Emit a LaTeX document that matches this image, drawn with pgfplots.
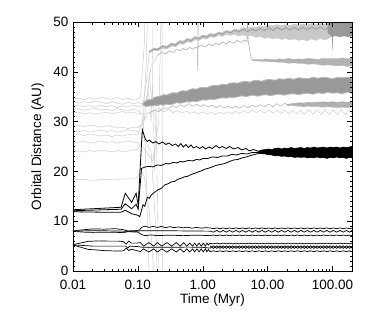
\documentclass[border=0pt]{standalone}
\usepackage{fontspec}
\setmainfont{Liberation Sans}
\usepackage{pgfplots}
\pgfplotsset{compat=1.18}
\definecolor{lg}{gray}{0.80}
\definecolor{mg}{gray}{0.70}
\definecolor{bg}{gray}{0.60}
\begin{document}
\fontsize{13.5}{15}\selectfont
\begin{tikzpicture}
\useasboundingbox (-73pt,-47pt) rectangle (301pt,271pt);
\begin{axis}[
  at={(0pt,0pt)}, anchor=south west,
  width=279pt, height=249pt, scale only axis,
  xmode=log, xmin=0.01, xmax=200, ymin=0, ymax=50,
  xtick={0.01,0.1,1,10,100}, xticklabels={0.01,0.10,1.00,10.00,100.00},
  ytick={0,10,20,30,40,50}, minor y tick num=9,
  major tick length=5pt, minor tick length=2.5pt,
  tick style={black, line width=0.4pt},
  axis line style={line width=0.5pt},
  /pgf/number format/assume math mode=true,
  ticklabel style={font=\fontsize{13.5}{15}\selectfont},
  xticklabel style={yshift=-4pt},
  xlabel={Time (Myr)}, ylabel={Orbital Distance (AU)},
  label style={font=\fontsize{13.5}{15}\selectfont},
  xlabel style={at={(axis description cs:0.5,-0.118)}, anchor=center},
  ylabel style={at={(axis description cs:-0.127,0.5)}, anchor=center},
  axis on top,
]
% ---------- early light gray bodies ----------
\addplot[lg, line width=0.5pt] coordinates {(0.01,34.5)(0.012,34.7)(0.015,34.4)(0.018,34.8)(0.022,34.5)(0.027,34.9)(0.033,34.6)(0.04,34.5)(0.048,34.9)(0.058,34.4)(0.07,34.7)(0.085,34.3)(0.1,34.5)(0.11,35)(0.125,45)(0.135,60)};
\addplot[lg, line width=0.5pt] coordinates {(0.01,33.9)(0.012,33.7)(0.015,34.0)(0.018,33.8)(0.022,34.1)(0.027,33.9)(0.033,33.6)(0.04,34.0)(0.048,33.7)(0.058,33.5)(0.07,33.9)(0.085,33.6)(0.1,33.8)(0.12,33.6)};
\addplot[lg, line width=0.5pt] coordinates {(0.01,33.1)(0.012,33.3)(0.015,33.0)(0.018,33.2)(0.022,32.9)(0.027,33.3)(0.033,33.0)(0.04,33.2)(0.048,32.8)(0.058,33.2)(0.07,32.9)(0.085,33.3)(0.1,33.0)(0.12,33.4)(0.135,38)(0.15,44)};
\addplot[lg, line width=0.5pt] coordinates {(0.01,32.4)(0.012,32.6)(0.015,32.3)(0.018,32.5)(0.022,32.7)(0.027,32.3)(0.033,32.5)(0.04,32.2)(0.048,32.6)(0.058,32.4)(0.07,32.1)(0.085,32.5)(0.1,32.3)(0.115,31.5)(0.13,25)(0.15,-2)};
\addplot[lg, line width=0.5pt] coordinates {(0.01,31.7)(0.012,31.9)(0.015,31.6)(0.018,31.8)(0.022,31.5)(0.027,31.7)(0.033,31.9)(0.04,31.6)(0.048,31.8)(0.058,32.0)(0.07,31.7)(0.085,31.9)(0.1,31.6)(0.12,31.5)(0.15,31.8)};
\addplot[lg, line width=0.5pt] coordinates {(0.01,29.1)(0.012,29.2)(0.015,29.0)(0.018,29.3)(0.022,29.1)(0.027,28.9)(0.033,29.2)(0.04,29.0)(0.048,28.7)(0.058,28.9)(0.07,28.6)(0.085,28.9)(0.1,28.8)(0.12,29.5)(0.135,42)(0.145,60)};
\addplot[lg, line width=0.5pt] coordinates {(0.01,28.1)(0.012,28.0)(0.015,28.2)(0.018,27.9)(0.022,28.1)(0.027,28.3)(0.033,28.0)(0.04,28.2)(0.048,27.9)(0.058,28.1)(0.07,28.4)(0.085,28.2)(0.1,28.0)(0.12,27)(0.16,24)(0.19,8)(0.2,-2)};
\addplot[lg, line width=0.5pt] coordinates {(0.01,27.3)(0.012,27.4)(0.015,27.2)(0.018,27.5)(0.022,27.3)(0.027,27.1)(0.033,27.3)(0.04,27.0)(0.048,27.3)(0.058,27.1)(0.07,27.4)(0.085,27.5)(0.1,27.3)(0.11,29)(0.14,31.5)(0.18,32.2)};
\addplot[lg, line width=0.5pt] coordinates {(0.01,25.8)(0.012,25.9)(0.015,26.0)(0.018,25.7)(0.022,25.9)(0.027,26.1)(0.033,25.8)(0.04,26.0)(0.048,25.7)(0.058,25.9)(0.07,26.1)(0.085,25.9)(0.1,25.8)(0.12,25)(0.17,22)(0.21,30)(0.235,60)(0.24,-2)};
\addplot[lg, line width=0.5pt] coordinates {(0.01,24.0)(0.012,24.1)(0.015,23.9)(0.018,24.2)(0.022,24.0)(0.027,24.3)(0.033,24.1)(0.04,23.9)(0.048,24.2)(0.058,24.0)(0.07,24.1)(0.085,24.3)(0.1,24.4)(0.115,26)(0.14,36)(0.16,41)(0.2,43.3)};
\addplot[lg, line width=0.5pt] coordinates {(0.01,18.3)(0.015,18.4)(0.02,18.2)(0.03,18.4)(0.045,18.3)(0.06,18.5)(0.09,18.5)(0.1,19)(0.11,20.5)(0.125,19)(0.15,12)(0.18,-2)};
\addplot[lg, line width=0.4pt] coordinates {(0.13,33.5)(0.145,36)(0.16,30)(0.17,38)(0.18,20)(0.19,34)(0.205,5)(0.215,-2)};
\addplot[lg, line width=0.4pt] coordinates {(0.14,34.0)(0.15,40)(0.165,33)(0.175,60)};
% ---------- light body later at ~41.5 AU ----------
\addplot[lg!80!black, line width=0.5pt] coordinates {(0.2,43.3)(0.23,43.9)(0.27,43.6)(0.3,44.2)(0.35,43.9)(0.4,44.5)(0.45,44.2)(0.5,44.7)(0.56,44.4)(0.63,44.9)(0.7,44.5)(0.78,45.0)(0.83,44.8)(0.84,40.2)(0.845,51)(0.85,45.0)(0.95,45.3)(1.1,45.0)(1.25,45.6)(1.4,45.2)(1.6,45.8)(1.8,45.4)(2.0,46.0)(2.3,45.6)(2.6,46.1)(3.0,45.7)(3.4,46.3)(3.9,45.9)(4.4,46.4)(4.8,46.1)(4.9,51)(5.0,46.2)(5.3,44.5)(5.6,42.6)(6.0,42.2)};
\addplot[fill=mg, draw=mg, line width=0.3pt] coordinates {(5.8,42.4)(7,42.5)(8,42.4)(9.5,42.6)(11,42.5)(13,42.4)(15,42.6)(18,42.5)(21,42.7)(25,42.5)(30,42.6)(35,42.5)(42,42.7)(50,42.6)(60,42.5)(70,42.7)(85,42.6)(100,42.7)(120,42.6)(140,42.8)(170,42.6)(200,42.7)(200,41.2)(170,41.1)(140,41.3)(120,41.2)(100,41.3)(85,41.4)(70,41.3)(60,41.5)(50,41.6)(42,41.5)(35,41.7)(30,41.7)(25,41.8)(21,41.7)(18,41.9)(15,41.9)(13,42.0)(11,42.0)(9.5,42.1)(8,42.1)(7,42.2)(5.8,42.2)} -- cycle;
% ---------- top band (light wide + core + dark end) ----------
\addplot[fill=gray!42, draw=gray!42, line width=0.3pt] coordinates {(0.15,44.3)(0.18,44.8)(0.2,44.7)(0.24,45.3)(0.28,45.2)(0.33,45.8)(0.38,45.7)(0.44,46.3)(0.5,46.2)(0.58,46.7)(0.66,46.6)(0.76,47.1)(0.87,46.9)(1.0,47.4)(1.15,47.3)(1.3,47.7)(1.5,47.6)(1.75,48.0)(2.0,47.9)(2.3,48.3)(2.7,48.2)(3.1,48.6)(3.6,48.5)(4.2,48.9)(4.9,48.7)(5.7,49.0)(6.6,48.9)(7.7,49.2)(9,49.1)(10.5,49.4)(12,49.2)(14,49.5)(16.5,49.3)(19,49.5)(22,49.3)(26,49.6)(30,49.4)(35,49.6)(41,49.4)(48,49.7)(56,49.5)(65,49.7)(75,49.5)(85,49.8)(100,49.9)(130,49.9)(200,49.9)(200,47.2)(130,47.1)(100,47.2)(85,46.6)(75,46.4)(65,46.7)(56,46.3)(48,46.6)(41,46.2)(35,46.5)(30,46.3)(26,46.6)(22,46.4)(19,46.7)(16.5,46.5)(14,46.8)(12,46.6)(10.5,46.9)(9,46.7)(7.7,47.1)(6.6,46.9)(5.7,47.3)(4.9,47.1)(4.2,47.4)(3.6,47.2)(3.1,47.5)(2.7,47.3)(2.3,47.5)(2.0,47.1)(1.75,47.3)(1.5,46.9)(1.3,47.0)(1.15,46.6)(1.0,46.7)(0.87,46.3)(0.76,46.4)(0.66,45.9)(0.58,46.0)(0.5,45.5)(0.44,45.6)(0.38,45.0)(0.33,45.1)(0.28,44.6)(0.24,44.7)(0.2,44.2)(0.18,44.3)(0.15,43.8)} -- cycle;
\addplot[bg, line width=0.8pt] coordinates {(0.15,44)(0.18,44.6)(0.2,44.4)(0.24,45.1)(0.28,44.9)(0.33,45.6)(0.38,45.3)(0.44,46.1)(0.5,45.8)(0.58,46.5)(0.66,46.2)(0.76,46.9)(0.87,46.6)(1.0,47.2)(1.15,46.9)(1.3,47.5)(1.5,47.2)(1.75,47.8)(2.0,47.5)(2.3,48.1)(2.7,47.8)(3.1,48.4)(3.6,48.0)(4.2,48.5)(4.9,48.1)(5.7,48.6)(6.6,48.2)(7.7,48.7)(9,48.3)(10.5,48.8)(12,48.3)(14,48.9)(16.5,48.4)(19,48.9)(22,48.4)(26,48.9)(30,48.4)(35,48.9)(41,48.5)(48,49.0)(56,48.5)(65,49.0)(75,48.5)(85,48.8)};
\addplot[fill=bg, draw=bg, line width=0.3pt] coordinates {(85,49.6)(95,49.9)(110,49.7)(130,50)(150,49.8)(175,50)(200,49.8)(200,47.2)(175,47.0)(150,47.3)(130,47.0)(110,47.3)(101,47.1)(100,44.4)(99,47.0)(95,47.3)(85,47.8)} -- cycle;
% ---------- band at 35-38 AU ----------
\addplot[fill=bg, draw=gray!55, line width=0.8pt] coordinates {(0.12,33.7)(0.13,34.1)(0.14,34.3)(0.15,34.5)(0.165,34.4)(0.18,34.9)(0.2,35.0)(0.22,35.1)(0.25,35.4)(0.28,35.3)(0.32,35.7)(0.36,35.8)(0.4,35.7)(0.45,36.1)(0.5,36.2)(0.56,36.1)(0.63,36.4)(0.7,36.6)(0.8,36.5)(0.9,36.8)(1.0,36.9)(1.15,36.8)(1.3,37.1)(1.5,37.3)(1.7,37.2)(2.0,37.5)(2.3,37.4)(2.6,37.7)(3.0,37.8)(3.5,37.7)(4,38.0)(4.6,38.1)(5.3,37.9)(6,38.2)(7,38.3)(8,38.1)(9.5,38.4)(11,38.5)(13,38.3)(15,38.6)(18,38.5)(21,38.7)(25,38.5)(30,38.8)(35,38.7)(42,38.6)(50,38.9)(60,38.7)(70,38.9)(85,38.8)(100,38.6)(120,38.9)(140,38.8)(170,38.9)(200,38.7)(200,35.7)(170,35.9)(140,35.6)(120,35.8)(100,35.7)(85,35.9)(70,35.6)(60,35.8)(50,35.5)(42,35.7)(35,35.6)(30,35.4)(25,35.6)(21,35.5)(18,35.3)(15,35.5)(13,35.4)(11,35.2)(9.5,35.4)(8,35.3)(7,35.1)(6,35.3)(5.3,35.2)(4.6,35.0)(4,35.2)(3.5,35.0)(3.0,34.8)(2.6,34.9)(2.3,34.7)(2.0,34.8)(1.7,34.6)(1.5,34.4)(1.3,34.5)(1.15,34.3)(1.0,34.4)(0.9,34.2)(0.8,34.0)(0.7,34.1)(0.63,33.9)(0.56,34.0)(0.5,33.8)(0.45,33.7)(0.4,33.8)(0.36,33.6)(0.32,33.4)(0.28,33.5)(0.25,33.3)(0.22,33.4)(0.2,33.2)(0.18,33.3)(0.165,33.1)(0.15,33.2)(0.14,33.0)(0.13,33.1)(0.12,33.3)} -- cycle;
% ---------- band at 32-34 AU ----------
\addplot[fill=mg, draw=mg, line width=0.3pt] coordinates {(20,33.5)(25,33.6)(30,33.8)(35,33.7)(42,33.9)(50,33.8)(60,33.9)(70,34.0)(85,33.9)(100,34.0)(120,33.9)(140,34.0)(170,33.9)(200,34.0)(200,32.9)(170,32.8)(140,32.9)(120,32.8)(100,32.9)(85,33.0)(70,32.9)(60,33.0)(50,33.0)(42,33.1)(35,33.0)(30,33.1)(25,33.2)(20,33.3)} -- cycle;
\addplot[lg!85!black, line width=0.5pt] coordinates {(0.15,31.8)(0.18,32.3)(0.21,32.0)(0.25,32.8)(0.29,32.5)(0.34,33.2)(0.39,32.8)(0.45,33.4)(0.52,33.0)(0.6,33.6)(0.7,33.1)(0.8,33.5)(0.92,33.0)(1.05,33.4)(1.2,32.9)(1.4,33.3)(1.6,32.8)(1.85,33.2)(2.1,32.7)(2.45,33.1)(2.8,32.7)(3.2,33.1)(3.7,32.7)(4.3,33.2)(5,32.8)(5.8,33.3)(6.7,32.9)(7.7,33.4)(9,33.0)(10.4,33.5)(12,33.0)(14,33.6)(16,33.1)(18.5,33.7)(21,33.1)(24.5,33.7)(28,33.2)(32,33.8)(37,33.2)(43,33.8)(50,33.2)(58,33.9)(67,33.3)(77,33.9)(89,33.3)(103,33.9)(119,33.3)(137,33.9)(158,33.3)(182,33.9)(200,33.4)};
\addplot[lg, line width=0.5pt] coordinates {(0.18,32.2)(0.21,32.6)(0.25,32.0)(0.3,32.4)(0.35,31.8)(0.41,32.2)(0.48,31.7)(0.56,32.1)(0.65,31.6)(0.75,32.0)(0.87,31.5)(1.0,32.0)(1.15,31.5)(1.35,31.9)(1.55,31.4)(1.8,31.9)(2.1,31.5)(2.4,32.0)(2.8,31.5)(3.2,32.1)(3.7,31.6)(4.3,32.2)(5,31.7)(5.8,32.3)(6.7,31.8)(7.7,32.3)(9,31.7)(10.4,32.3)(12,31.7)(14,32.3)(16,31.6)(18.5,32.3)(21,31.6)(24.5,32.3)(28,31.5)(32,32.3)(37,31.5)(43,32.4)(50,31.5)(58,32.4)(67,31.4)(77,32.4)(89,31.4)(103,32.4)(119,31.4)(137,32.4)(158,31.4)(182,32.4)(200,31.5)};
% ---------- black: planet scattered from 12 AU ----------
\addplot[black, line width=0.8pt] coordinates {(0.01,12.3)(0.02,12.5)(0.04,12.7)(0.055,12.8)(0.064,15.6)(0.08,13.8)(0.094,15.6)(0.101,13.2)(0.117,28.4)(0.13,26.5)(0.14,26.0)(0.15,26.3)(0.17,25.7)(0.19,26.0)(0.21,25.5)(0.24,25.9)(0.27,25.4)(0.3,25.7)(0.34,25.2)(0.38,25.5)(0.42,25.0)(0.46,25.6)(0.5,24.9)(0.55,25.4)(0.6,24.8)(0.66,25.3)(0.72,24.7)(0.8,25.0)(0.9,24.6)(1.0,25.0)(1.1,24.5)(1.25,24.9)(1.4,24.6)(1.6,25.2)(1.8,24.7)(2.0,25.0)(2.3,24.6)(2.6,25.0)(3.0,24.5)(3.5,24.8)(4.0,24.3)(4.6,24.6)(5.3,24.1)(6.0,24.4)(7.3,24.0)};
\addplot[black, line width=0.8pt] coordinates {(0.01,12.1)(0.03,12.3)(0.055,12.4)(0.064,13.5)(0.08,12.5)(0.094,13.4)(0.101,12.4)(0.114,20.6)(0.13,20.9)(0.15,21.0)(0.17,20.9)(0.2,21.3)(0.23,21.2)(0.27,21.6)(0.3,21.5)(0.35,21.8)(0.4,21.7)(0.45,22.0)(0.5,21.9)(0.6,22.2)(0.7,22.1)(0.8,22.4)(0.9,22.3)(1.0,22.6)(1.2,22.6)(1.4,22.9)(1.7,22.8)(2.0,23.1)(2.4,23.1)(2.8,23.4)(3.3,23.3)(4,23.6)(4.8,23.5)(5.8,23.8)(7.3,23.8)};
\addplot[black, line width=0.8pt] coordinates {(0.01,11.9)(0.03,11.8)(0.055,11.8)(0.064,12.2)(0.08,11.5)(0.1,11.2)(0.107,10.9)(0.12,13.3)(0.128,13.0)(0.14,14.8)(0.15,14.6)(0.162,15.3)(0.18,15.8)(0.205,16.3)(0.23,16.6)(0.26,17.3)(0.29,17.5)(0.33,17.9)(0.37,18.0)(0.41,18.4)(0.46,18.6)(0.52,18.9)(0.58,19.0)(0.67,19.4)(0.75,19.6)(0.85,19.9)(0.95,20.1)(1.05,20.4)(1.2,20.6)(1.4,20.9)(1.6,21.2)(1.9,21.4)(2.2,21.6)(2.6,22.0)(3.0,22.3)(3.5,22.4)(4.0,22.7)(4.7,22.9)(5.5,23.2)(6.3,23.4)(7.3,23.6)};
\addplot[fill=black, draw=black, line width=0.5pt] coordinates {(7.3,24.1)(8.19,24.3)(9.19,24.4)(10.3,24.5)(11.6,24.4)(13,24.6)(14.6,24.7)(16.4,24.5)(18.4,24.7)(20.6,24.6)(23.1,24.8)(25.9,24.6)(29.1,24.7)(32.6,24.8)(36.6,24.6)(41.1,24.8)(46.1,24.7)(51.7,24.9)(58,24.7)(65.1,24.8)(73,24.9)(81.9,24.7)(91.9,24.9)(103,24.8)(116,24.9)(130,24.7)(146,24.9)(164,24.8)(184,24.9)(200,24.8)(200,22.7)(184,22.8)(164,22.6)(146,22.8)(130,22.7)(116,22.9)(103,22.7)(91.9,22.8)(81.9,22.6)(73,22.8)(65.1,22.7)(58,22.9)(51.7,22.7)(46.1,22.8)(41.1,22.7)(36.6,22.9)(32.6,22.8)(29.1,22.9)(25.9,22.8)(23.1,23.0)(20.6,22.9)(18.4,23.1)(16.4,23.0)(14.6,23.2)(13,23.1)(11.6,23.3)(10.3,23.3)(9.19,23.5)(8.19,23.5)(7.3,23.6)} -- cycle;
% ---------- black: planet at 8 AU ----------
\addplot[black, line width=0.7pt] coordinates {(0.01,8.05)(0.015,8.3)(0.02,8.45)(0.03,8.4)(0.045,8.5)(0.06,8.3)(0.07,8.05)(0.09,8.1)(0.105,8.2)(0.115,8.8)(0.13,9.0)(0.15,8.75)(0.17,8.95)(0.2,8.75)(0.23,8.95)(0.27,8.7)(0.31,8.9)(0.36,8.7)(0.42,8.85)(0.5,8.65)(0.58,8.8)(0.68,8.6)(0.8,8.75)(0.95,8.6)(1.1,8.7)(1.3,8.65)(1.46,8.5)(1.64,8.65)(1.84,8.5)(2.06,8.65)(2.31,8.5)(2.59,8.65)(2.91,8.5)(3.26,8.65)(3.66,8.5)(4.11,8.65)(4.61,8.5)(5.17,8.65)(5.8,8.5)(6.51,8.65)(7.3,8.5)(8.19,8.65)(9.19,8.5)(10.3,8.65)(11.6,8.5)(13.0,8.65)(14.6,8.5)(16.4,8.65)(18.4,8.5)(20.6,8.65)(23.1,8.5)(25.9,8.65)(29.1,8.5)(32.6,8.65)(36.6,8.5)(41.1,8.65)(46.1,8.5)(51.7,8.65)(58.0,8.5)(65.1,8.65)(73.0,8.5)(81.9,8.65)(91.9,8.5)(103,8.65)(116,8.5)(130,8.65)(146,8.5)(164,8.65)(184,8.5)(200,8.65)};
\addplot[black, line width=0.7pt] coordinates {(0.01,8.0)(0.02,8.1)(0.04,8.05)(0.06,8.0)(0.07,7.95)(0.1,8.0)(0.115,8.1)(0.2,8.1)(0.5,8.05)(1.3,8.0)(1.46,7.8)(1.64,8.15)(1.84,7.8)(2.06,8.15)(2.31,7.8)(2.59,8.15)(2.91,7.8)(3.26,8.15)(3.66,7.8)(4.11,8.15)(4.61,7.8)(5.17,8.15)(5.8,7.8)(6.51,8.15)(7.3,7.8)(8.19,8.15)(9.19,7.8)(10.3,8.15)(11.6,7.8)(13.0,8.15)(14.6,7.8)(16.4,8.15)(18.4,7.8)(20.6,8.15)(23.1,7.8)(25.9,8.15)(29.1,7.8)(32.6,8.15)(36.6,7.8)(41.1,8.15)(46.1,7.8)(51.7,8.15)(58.0,7.8)(65.1,8.15)(73.0,7.8)(81.9,8.15)(91.9,7.8)(103,8.15)(116,7.8)(130,8.15)(146,7.8)(164,8.15)(184,7.8)(200,8.15)};
\addplot[black, line width=0.7pt] coordinates {(0.01,7.95)(0.015,7.8)(0.02,7.75)(0.04,7.8)(0.06,7.7)(0.07,7.9)(0.1,7.8)(0.115,7.3)(0.13,7.1)(0.16,7.25)(0.2,7.1)(0.3,7.2)(0.5,7.1)(0.8,7.2)(1.3,7.1)(1.46,7.22)(1.64,7.08)(1.84,7.22)(2.06,7.08)(2.31,7.22)(2.59,7.08)(2.91,7.22)(3.26,7.08)(3.66,7.22)(4.11,7.08)(4.61,7.22)(5.17,7.08)(5.8,7.22)(6.51,7.08)(7.3,7.22)(8.19,7.08)(9.19,7.22)(10.3,7.08)(11.6,7.22)(13.0,7.08)(14.6,7.22)(16.4,7.08)(18.4,7.22)(20.6,7.08)(23.1,7.22)(25.9,7.08)(29.1,7.22)(32.6,7.08)(36.6,7.22)(41.1,7.08)(46.1,7.22)(51.7,7.08)(58.0,7.22)(65.1,7.08)(73.0,7.22)(81.9,7.08)(91.9,7.22)(103,7.08)(116,7.22)(130,7.08)(146,7.22)(164,7.08)(184,7.22)(200,7.08)};
% ---------- black: planet at 5 AU ----------
\addplot[black, line width=0.7pt] coordinates {(0.01,5.3)(0.013,5.6)(0.017,5.95)(0.025,6.05)(0.035,6.0)(0.05,6.0)(0.06,5.9)(0.066,5.4)(0.072,6.0)(0.08,5.6)(0.095,5.6)(0.11,5.7)(0.122,5.0)(0.148,5.7)(0.175,5.0)(0.2,5.7)(0.234,5.0)(0.28,5.7)(0.333,5.0)(0.39,5.7)(0.45,5.0)(0.51,5.7)(0.568,5.0)(0.63,5.6)(0.7,5.0)(0.75,5.6)(0.81,5.0)(0.88,5.6)(0.95,5.0)(1.02,5.6)(1.1,5.0)(1.16,5.6)(1.22,5.2)(1.3,5.55)(1.46,5.45)(1.64,5.6)(1.84,5.45)(2.06,5.6)(2.31,5.45)(2.59,5.6)(2.91,5.45)(3.26,5.6)(3.66,5.45)(4.11,5.6)(4.61,5.45)(5.17,5.6)(5.8,5.45)(6.51,5.6)(7.3,5.45)(8.19,5.6)(9.19,5.45)(10.3,5.6)(11.6,5.45)(13.0,5.6)(14.6,5.45)(16.4,5.6)(18.4,5.45)(20.6,5.6)(23.1,5.45)(25.9,5.6)(29.1,5.45)(32.6,5.6)(36.6,5.45)(41.1,5.6)(46.1,5.45)(51.7,5.6)(58.0,5.45)(65.1,5.6)(73.0,5.45)(81.9,5.6)(91.9,5.45)(103,5.6)(116,5.45)(130,5.6)(146,5.45)(164,5.6)(184,5.45)(200,5.6)};
\addplot[black, line width=0.7pt] coordinates {(0.01,5.25)(0.02,5.0)(0.05,5.0)(0.065,5.0)(0.07,4.6)(0.075,5.0)(0.1,4.9)(0.12,4.75)(0.3,4.75)(0.6,4.8)(1.0,4.75)(1.3,4.6)(1.46,5.05)(1.64,4.55)(1.84,5.05)(2.06,4.55)(2.31,5.05)(2.59,4.55)(2.91,5.05)(3.26,4.55)(3.66,5.05)(4.11,4.55)(4.61,5.05)(5.17,4.55)(5.8,5.05)(6.51,4.55)(7.3,5.05)(8.19,4.55)(9.19,5.05)(10.3,4.55)(11.6,5.05)(13.0,4.55)(14.6,5.05)(16.4,4.55)(18.4,5.05)(20.6,4.55)(23.1,5.05)(25.9,4.55)(29.1,5.05)(32.6,4.55)(36.6,5.05)(41.1,4.55)(46.1,5.05)(51.7,4.55)(58.0,5.05)(65.1,4.55)(73.0,5.05)(81.9,4.55)(91.9,5.05)(103,4.55)(116,5.05)(130,4.55)(146,5.05)(164,4.55)(184,5.05)(200,4.6)};
\addplot[black, line width=0.7pt] coordinates {(1.3,5.05)(1.46,4.55)(1.64,5.05)(1.84,4.55)(2.06,5.05)(2.31,4.55)(2.59,5.05)(2.91,4.55)(3.26,5.05)(3.66,4.55)(4.11,5.05)(4.61,4.55)(5.17,5.05)(5.8,4.55)(6.51,5.05)(7.3,4.55)(8.19,5.05)(9.19,4.55)(10.3,5.05)(11.6,4.55)(13.0,5.05)(14.6,4.55)(16.4,5.05)(18.4,4.55)(20.6,5.05)(23.1,4.55)(25.9,5.05)(29.1,4.55)(32.6,5.05)(36.6,4.55)(41.1,5.05)(46.1,4.55)(51.7,5.05)(58.0,4.55)(65.1,5.05)(73.0,4.55)(81.9,5.05)(91.9,4.55)(103,5.05)(116,4.55)(130,5.05)(146,4.55)(164,5.05)(184,4.55)(200,5.0)};
\addplot[black, line width=0.7pt] coordinates {(0.01,5.2)(0.013,4.8)(0.017,4.35)(0.03,4.1)(0.05,4.0)(0.06,4.05)(0.066,4.6)(0.072,4.1)(0.08,4.4)(0.095,4.1)(0.11,3.9)(0.122,4.45)(0.148,3.8)(0.175,4.45)(0.2,3.8)(0.234,4.45)(0.28,3.8)(0.333,4.45)(0.39,3.8)(0.45,4.45)(0.51,3.8)(0.568,4.45)(0.63,3.85)(0.7,4.45)(0.75,3.85)(0.81,4.45)(0.88,3.85)(0.95,4.45)(1.02,3.85)(1.1,4.45)(1.16,3.85)(1.22,4.3)(1.3,3.9)(1.46,4.05)(1.64,3.9)(1.84,4.05)(2.06,3.9)(2.31,4.05)(2.59,3.9)(2.91,4.05)(3.26,3.9)(3.66,4.05)(4.11,3.9)(4.61,4.05)(5.17,3.9)(5.8,4.05)(6.51,3.9)(7.3,4.05)(8.19,3.9)(9.19,4.05)(10.3,3.9)(11.6,4.05)(13.0,3.9)(14.6,4.05)(16.4,3.9)(18.4,4.05)(20.6,3.9)(23.1,4.05)(25.9,3.9)(29.1,4.05)(32.6,3.9)(36.6,4.05)(41.1,3.9)(46.1,4.05)(51.7,3.9)(58.0,4.05)(65.1,3.9)(73.0,4.05)(81.9,3.9)(91.9,4.05)(103,3.9)(116,4.05)(130,3.9)(146,4.05)(164,3.9)(184,4.05)(200,3.9)};
\end{axis}
\end{tikzpicture}
\end{document}
